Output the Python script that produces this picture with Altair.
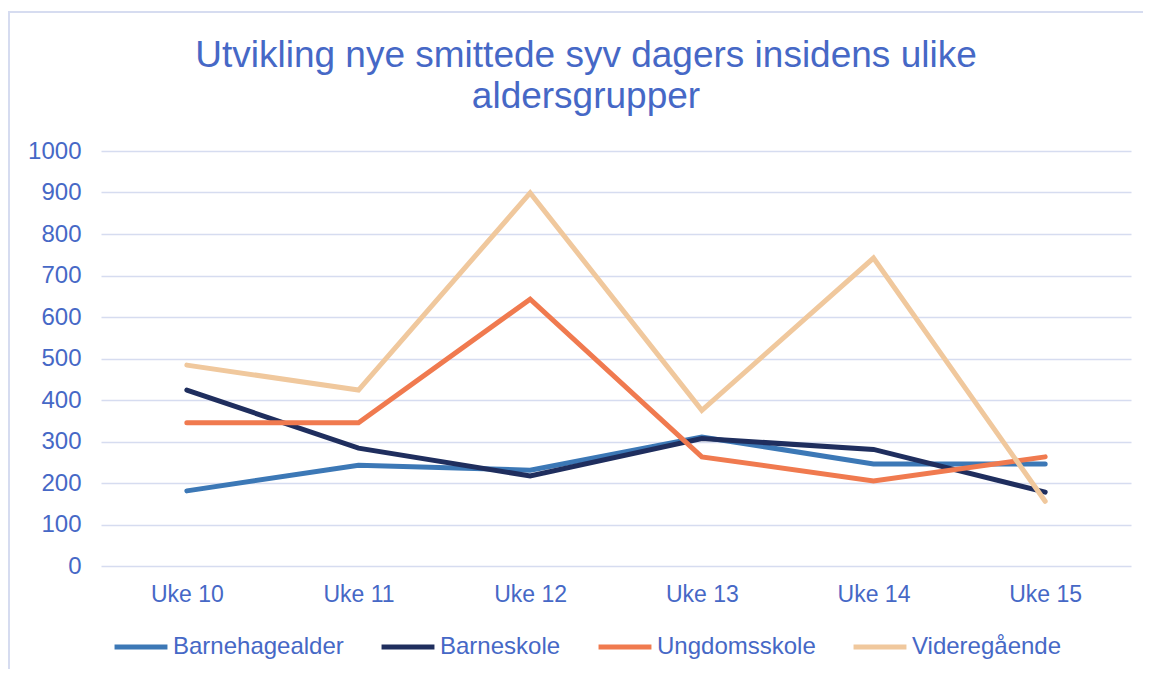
import altair as alt
import pandas as pd

weeks = ["Uke 10", "Uke 11", "Uke 12", "Uke 13", "Uke 14", "Uke 15"]
barnehagealder = [181, 243, 231, 311, 246, 246]
barneskole = [424, 284, 217, 307, 281, 178]
ungdomsskole = [345, 345, 643, 263, 205, 263]
videregaende = [484, 424, 899, 375, 742, 156]

series_names = ["Barnehagealder", "Barneskole", "Ungdomsskole", "Videregående"]
series_values = [barnehagealder, barneskole, ungdomsskole, videregaende]
colors = ["#3C78B6", "#1F2E5E", "#F07A4F", "#F0C89D"]
title_text = "Utvikling nye smittede syv dagers insidens ulike\naldersgrupper"

rows = []
for name, vals in zip(series_names, series_values):
    for w, v in zip(weeks, vals):
        rows.append({"Uke": w, "Serie": name, "Verdi": v})
df = pd.DataFrame(rows)

TEXT = "#4668C6"
GRID = "#D6DCF0"
FONT = "Liberation Sans"

lines = alt.Chart(df).mark_line(strokeWidth=5, strokeCap="round", strokeJoin="miter").encode(
    x=alt.X("Uke:N", sort=weeks, scale=alt.Scale(type="point", padding=0.5),
            axis=alt.Axis(title=None, grid=False, ticks=False, domain=False, labelAngle=0,
                          labelPadding=17, labelFontSize=23, labelColor=TEXT,
                          labelFont=FONT)),
    y=alt.Y("Verdi:Q", scale=alt.Scale(domain=[0, 1000]),
            axis=alt.Axis(title=None, values=list(range(0, 1001, 100)), format="d",
                          ticks=False, domain=False,
                          labelPadding=20, labelFontSize=24, labelColor=TEXT,
                          labelFont=FONT, gridColor=GRID, gridWidth=1.5)),
    color=alt.Color("Serie:N", sort=series_names,
                    scale=alt.Scale(domain=series_names, range=colors),
                    legend=alt.Legend(title=None, orient="none", direction="horizontal",
                                      legendX=11, legendY=467, symbolType="stroke",
                                      symbolStrokeWidth=5, symbolSize=2800,
                                      labelFontSize=24, labelColor=TEXT, labelLimit=0,
                                      labelFont=FONT, labelOffset=3,
                                      columnPadding=27)),
    order=alt.Order("Serie:N"),
)

border = alt.Chart(pd.DataFrame({"a": [0]})).mark_rect(
    fill=None, stroke=GRID, strokeWidth=2, clip=False
).encode(x=alt.value(-92), x2=alt.value(1044), y=alt.value(-139), y2=alt.value(600))

title = alt.Chart(pd.DataFrame({"t": [title_text]})).mark_text(
    fontSize=37, font=FONT, color=TEXT, align="center", baseline="alphabetic",
    lineBreak="\n", lineHeight=41, clip=False
).encode(text="t:N", x=alt.value(485), y=alt.value(-84))

chart = alt.layer(border, title, lines).properties(
    width=1030, height=415,
    autosize=alt.AutoSizeParams(type="none"),
    padding={"left": 93, "top": 143, "right": 12, "bottom": 103},
).configure_view(stroke=None)

chart.save("out.html", embed_options={"renderer": "svg", "actions": False})
